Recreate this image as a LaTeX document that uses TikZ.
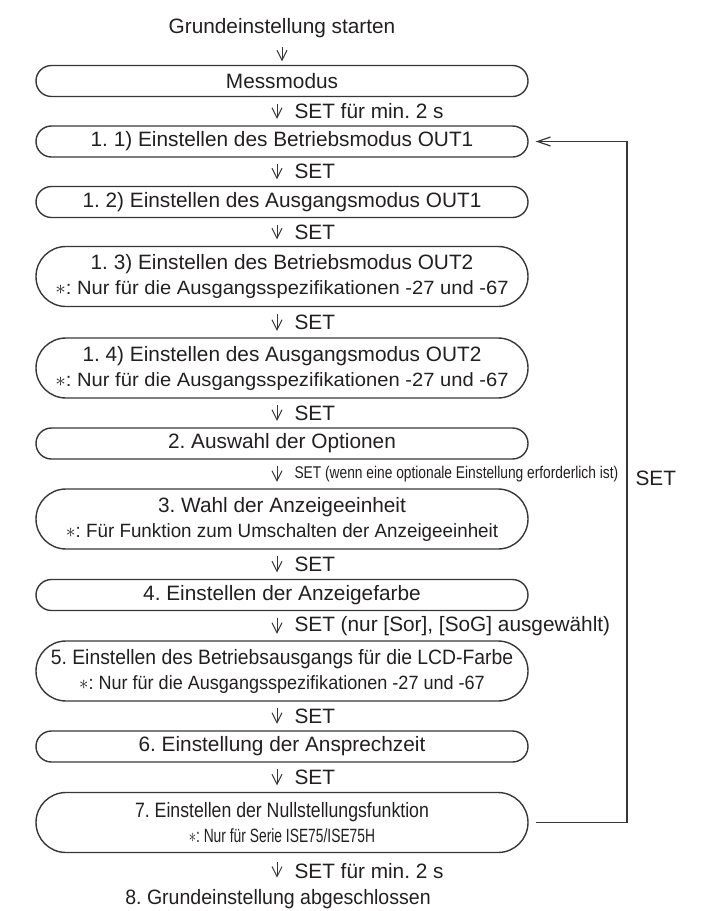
\documentclass[tikz,border=0pt]{standalone}
\usepackage{fontspec}
\setmainfont{Liberation Sans}
\usetikzlibrary{arrows.meta}
\definecolor{linegray}{RGB}{55, 55, 55}
\definecolor{textblack}{RGB}{35, 31, 32}
\frenchspacing
\newcommand{\hscale}[2]{\scalebox{#1}[1]{#2}}
\newcommand{\subline}[2][1]{\hscale{#1}{\fontsize{9.6}{11}\selectfont$\ast$: #2}}
\tikzset{
  stepbox/.style={draw=linegray, line width=0.7pt, rectangle, minimum width=246pt,
    inner sep=0pt, align=center, text=textblack, font=\fontsize{10.4}{12.5}\selectfont},
  onebox/.style={stepbox, minimum height=15.5pt, rounded corners=7.75pt},
  twobox/.style={stepbox, minimum height=30pt, rounded corners=15pt},
  plaintext/.style={inner sep=0pt, anchor=base, text=textblack, font=\fontsize{10.4}{12.5}\selectfont},
  setarrow/.style={draw=linegray, line width=0.5pt, -{Straight Barb[length=5pt,width=5pt]},
    shorten <=3.25pt, shorten >=3.25pt},
  setlabel/.style={anchor=west, inner sep=0pt, xshift=8.5pt, text=textblack, font=\fontsize{10.4}{12.5}\selectfont},
  looplabel/.style={anchor=west, inner sep=0pt, xshift=4pt, text=textblack, font=\fontsize{10.4}{12.5}\selectfont},
  looparrow/.style={draw=linegray, line width=0.6pt, -{Straight Barb[length=6.5pt,width=4.5pt]},
    shorten <=3.5pt, shorten >=3.5pt}
}

\begin{document}
\begin{tikzpicture}[x=0.5pt, y=-0.5pt]
  \useasboundingbox (0, 0) rectangle (703, 911);
  \node[plaintext] (start) at (282,  33.0) {Grundeinstellung starten};
  \node[onebox]    (mess)  at (282,  81.0) {Messmodus};
  \node[onebox]    (b11)   at (282, 141.5) {1. 1) Einstellen des Betriebsmodus OUT1};
  \node[onebox]    (b12)   at (282, 202.0) {1. 2) Einstellen des Ausgangsmodus OUT1};
  \node[twobox]    (b13)   at (282, 276.5) {1. 3) Einstellen des Betriebsmodus OUT2\\
                                             \subline[1.05]{Nur für die Ausgangsspezifikationen -27 und -67}};
  \node[twobox]    (b14)   at (282, 368.0) {1. 4) Einstellen des Ausgangsmodus OUT2\\
                                             \subline[1.05]{Nur für die Ausgangsspezifikationen -27 und -67}};
  \node[onebox]    (b2)    at (282, 443.5) {2. Auswahl der Optionen};
  \node[twobox]    (b3)    at (282, 519.0) {3. Wahl der Anzeigeeinheit\\
                                             \subline[0.98]{Für Funktion zum Umschalten der Anzeigeeinheit}};
  \node[onebox]    (b4)    at (282, 595.0) {4. Einstellen der Anzeigefarbe};
  \node[twobox]    (b5)    at (282, 671.0) {\hscale{0.93}{5. Einstellen des Betriebsausgangs für die LCD-Farbe}\\
                                             \subline[0.94]{Nur für die Ausgangsspezifikationen -27 und -67}};
  \node[onebox]    (b6)    at (282, 746.5) {6. Einstellung der Ansprechzeit};
  \node[twobox]    (b7)    at (282, 822.5) {\hscale{0.85}{7. Einstellen der Nullstellungsfunktion}\\
                                             \subline[0.72]{Nur für Serie ISE75/ISE75H}};
  \node[plaintext] (fin)   at (278, 904.0) {\hscale{0.94}{8. Grundeinstellung abgeschlossen}};
  \coordinate (loopright) at (627, 0);

  \draw[setarrow, shorten <=4.8pt, shorten >=1.75pt] (start.south) -- (mess.north);
  \draw[setarrow] ([xshift=-2.5pt]mess.south) -- ([xshift=-2.5pt]b11.north) node[setlabel, midway] {SET für min. 2 s};
  \draw[setarrow] ([xshift=-2.5pt]b11.south)  -- ([xshift=-2.5pt]b12.north) node[setlabel, midway] {SET};
  \draw[setarrow] ([xshift=-2.5pt]b12.south)  -- ([xshift=-2.5pt]b13.north) node[setlabel, midway] {SET};
  \draw[setarrow] ([xshift=-2.5pt]b13.south)  -- ([xshift=-2.5pt]b14.north) node[setlabel, midway] {SET};
  \draw[setarrow] ([xshift=-2.5pt]b14.south)  -- ([xshift=-2.5pt]b2.north)  node[setlabel, midway] {SET};
  \draw[setarrow] ([xshift=-2.5pt]b2.south)   -- ([xshift=-2.5pt]b3.north)
       node[setlabel, midway] {\hscale{0.81}{\fontsize{8.5}{10}\selectfont SET (wenn eine optionale Einstellung erforderlich ist)}};
  \draw[setarrow] ([xshift=-2.5pt]b3.south)   -- ([xshift=-2.5pt]b4.north)  node[setlabel, midway] {SET};
  \draw[setarrow] ([xshift=-2.5pt]b4.south)   -- ([xshift=-2.5pt]b5.north)
       node[setlabel, midway] {SET (nur [Sor], [SoG] ausgewählt)};
  \draw[setarrow] ([xshift=-2.5pt]b5.south)   -- ([xshift=-2.5pt]b6.north)  node[setlabel, midway] {SET};
  \draw[setarrow] ([xshift=-2.5pt]b6.south)   -- ([xshift=-2.5pt]b7.north)  node[setlabel, midway] {SET};
  \draw[setarrow, shorten <=4.5pt, shorten >=5.4pt] ([xshift=-2.5pt]b7.south) -- ([xshift=-2.5pt]b7.south |- fin.north)
       node[setlabel, midway] {SET für min. 2 s};
  \draw[looparrow] (b7.east) -- (b7.east -| loopright) -- (b11.east -| loopright)
       node[looplabel, pos=0.506] {SET} -- (b11.east);
\end{tikzpicture}
\end{document}
